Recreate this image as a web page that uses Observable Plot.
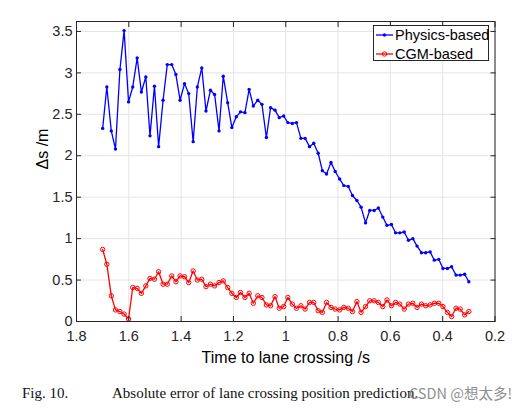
<!DOCTYPE html>
<html>
<head>
<meta charset="utf-8">
<script src="https://cdn.jsdelivr.net/npm/d3@7"></script>
<script src="https://cdn.jsdelivr.net/npm/@observablehq/plot@0.6"></script>
<style>
  body { margin: 0; background: #fff; }
  #wrap { position: relative; width: 529px; height: 412px; overflow: hidden; background: #fff;
          font-family: "Liberation Sans", Arial, Helvetica, sans-serif; }
  #chart { position: absolute; left: 0; top: 0; }
  #legend { position: absolute; left: 373px; top: 25px; width: 116px; height: 36px;
            border: 1px solid #262626; background: #fff; box-sizing: border-box; }
  #legend .row { position: absolute; left: 1px; height: 18px; display: flex; align-items: center;
                 font-size: 14.5px; color: #000; white-space: nowrap; }
  #legend svg { display: block; margin-right: 1px; }
  #caption { position: absolute; left: 22px; top: 384px; line-height: 18px; font-size: 15px;
             font-family: "Liberation Serif", "Times New Roman", serif; color: #111; white-space: nowrap; }
  #caption .fig { display: inline-block; width: 90px; }
  #mark { position: absolute; left: 409px; top: 384px; line-height: 18px; font-size: 14.5px;
          font-family: "Noto Sans CJK SC", "Noto Sans", sans-serif; color: #8f8f8f; white-space: nowrap; }
</style>
</head>
<body>
<div id="wrap">
  <div id="chart"></div>
  <div id="legend"></div>
  <div id="caption"></div>
  <div id="mark"></div>
</div>
<script>
const time = [
  1.700, 1.684, 1.667, 1.651, 1.634, 1.618, 1.601, 1.585, 1.568, 1.552,
  1.535, 1.519, 1.502, 1.486, 1.469, 1.453, 1.436, 1.420, 1.404, 1.387,
  1.371, 1.354, 1.338, 1.321, 1.305, 1.288, 1.272, 1.255, 1.239, 1.222,
  1.206, 1.189, 1.173, 1.156, 1.140, 1.124, 1.107, 1.091, 1.074, 1.058,
  1.041, 1.025, 1.008, 0.992, 0.975, 0.959, 0.942, 0.926, 0.909, 0.893,
  0.876, 0.860, 0.844, 0.827, 0.811, 0.794, 0.778, 0.761, 0.745, 0.728,
  0.712, 0.695, 0.679, 0.662, 0.646, 0.629, 0.613, 0.596, 0.580, 0.564,
  0.547, 0.531, 0.514, 0.498, 0.481, 0.465, 0.448, 0.432, 0.415, 0.399,
  0.382, 0.366, 0.349, 0.333, 0.316, 0.300
];
const physics = [
  2.33, 2.83, 2.30, 2.08, 3.04, 3.51, 2.65, 2.83, 3.18, 2.77,
  2.95, 2.24, 2.84, 2.11, 2.67, 3.10, 3.10, 2.98, 2.67, 2.87,
  2.75, 2.17, 2.83, 3.06, 2.54, 2.79, 2.74, 2.30, 2.96, 2.64,
  2.34, 2.47, 2.53, 2.52, 2.80, 2.60, 2.67, 2.62, 2.22, 2.58,
  2.55, 2.46, 2.48, 2.40, 2.39, 2.40, 2.21, 2.21, 2.11, 2.15,
  2.03, 1.82, 1.78, 1.92, 1.81, 1.72, 1.64, 1.63, 1.52, 1.46,
  1.38, 1.19, 1.34, 1.34, 1.37, 1.26, 1.16, 1.17, 1.07, 1.07,
  1.08, 0.98, 1.00, 0.91, 0.83, 0.83, 0.84, 0.74, 0.75, 0.64,
  0.64, 0.66, 0.56, 0.56, 0.57, 0.48
];
const cgm = [
  0.87, 0.69, 0.31, 0.14, 0.12, 0.09, 0.03, 0.41, 0.40, 0.34,
  0.43, 0.52, 0.51, 0.60, 0.45, 0.45, 0.55, 0.48, 0.55, 0.54,
  0.47, 0.61, 0.50, 0.51, 0.42, 0.45, 0.43, 0.47, 0.49, 0.41,
  0.34, 0.29, 0.35, 0.29, 0.34, 0.22, 0.31, 0.29, 0.20, 0.19,
  0.30, 0.16, 0.18, 0.29, 0.21, 0.16, 0.19, 0.15, 0.23, 0.23,
  0.13, 0.11, 0.23, 0.17, 0.15, 0.14, 0.17, 0.16, 0.12, 0.24,
  0.11, 0.18, 0.25, 0.25, 0.23, 0.18, 0.26, 0.19, 0.23, 0.21,
  0.15, 0.21, 0.22, 0.17, 0.21, 0.19, 0.20, 0.22, 0.22, 0.18,
  0.11, 0.06, 0.16, 0.15, 0.08, 0.12
];
const xTicks = [1.8, 1.6, 1.4, 1.2, 1.0, 0.8, 0.6, 0.4, 0.2];
const yTicks = [0, 0.5, 1, 1.5, 2, 2.5, 3, 3.5];
const seriesNames = ["Physics-based", "CGM-based"];
const seriesColors = ["#0000ff", "#ff0000"];
const xLabel = "Time to lane crossing /s";
const yLabel = "Δs /m";
const captionFig = "Fig. 10.";
const captionText = "Absolute error of lane crossing position prediction.";
const watermark = "CSDN @想太多!";

const physRows = time.map((t, i) => ({t, v: physics[i]}));
const cgmRows = time.map((t, i) => ({t, v: cgm[i]}));
const fmt = d => String(+d.toFixed(1));
const blank = () => "";
const grid = "#e4e4e4";
const axisColor = "#262626";

const chart = Plot.plot({
  width: 529,
  height: 372,
  marginLeft: 76,
  marginRight: 34.5,
  marginTop: 21,
  marginBottom: 51,
  style: {fontFamily: "'Liberation Sans', Arial, Helvetica, sans-serif", fontSize: "14.5px", color: axisColor, background: "#fff", overflow: "visible"},
  x: {domain: [1.8, 0.2]},
  y: {domain: [0, 3.62]},
  marks: [
    Plot.gridX(xTicks, {stroke: grid, strokeOpacity: 1}),
    Plot.gridY(yTicks, {stroke: grid, strokeOpacity: 1}),
    Plot.line(physRows, {x: "t", y: "v", stroke: seriesColors[0], strokeWidth: 1.3}),
    Plot.dot(physRows, {x: "t", y: "v", r: 1.7, fill: seriesColors[0]}),
    Plot.line(cgmRows, {x: "t", y: "v", stroke: seriesColors[1], strokeWidth: 1.3}),
    Plot.dot(cgmRows, {x: "t", y: "v", r: 2.2, stroke: seriesColors[1], fill: "none", strokeWidth: 1}),
    Plot.axisX(xTicks, {anchor: "bottom", tickSize: 0, tickPadding: 9, tickFormat: fmt, label: null, fontSize: 14.5}),
    Plot.axisX(xTicks, {anchor: "bottom", tickSize: -5, tickFormat: blank, label: null, stroke: axisColor}),
    Plot.axisX(xTicks, {anchor: "top", tickSize: -5, tickFormat: blank, label: null, stroke: axisColor}),
    Plot.axisY(yTicks, {anchor: "left", tickSize: 0, tickPadding: 4, tickFormat: fmt, label: null, fontSize: 14.5}),
    Plot.axisY(yTicks, {anchor: "left", tickSize: -5, tickFormat: blank, label: null, stroke: axisColor}),
    Plot.axisY(yTicks, {anchor: "right", tickSize: -5, tickFormat: blank, label: null, stroke: axisColor}),
    Plot.frame({stroke: axisColor, strokeWidth: 1}),
    Plot.text([xLabel], {frameAnchor: "bottom", dy: 36, text: d => d, fontSize: 16, fill: "#000", lineAnchor: "middle"}),
    Plot.text([yLabel], {frameAnchor: "left", dx: -34, dy: -2, rotate: -90, text: d => d, fontSize: 16, fill: "#000", lineAnchor: "middle"})
  ]
});
document.getElementById("chart").appendChild(chart);

// legend
const legend = document.getElementById("legend");
seriesNames.forEach((name, i) => {
  const row = document.createElement("div");
  row.className = "row";
  row.style.top = (i === 0 ? 0 : 19.3) + "px";
  const color = seriesColors[i];
  const marker = i === 0
    ? `<circle cx="9.5" cy="6" r="1.7" fill="${color}"/>`
    : `<circle cx="9.5" cy="6" r="2.2" fill="none" stroke="${color}" stroke-width="1"/>`;
  row.innerHTML = `<svg width="19" height="12"><line x1="1" x2="18" y1="6" y2="6" stroke="${color}" stroke-width="1.3"/>${marker}</svg><span>${name}</span>`;
  legend.appendChild(row);
});

document.getElementById("caption").innerHTML = `<span class="fig">${captionFig}</span>${captionText}`;
document.getElementById("mark").textContent = watermark;
</script>
</body>
</html>
